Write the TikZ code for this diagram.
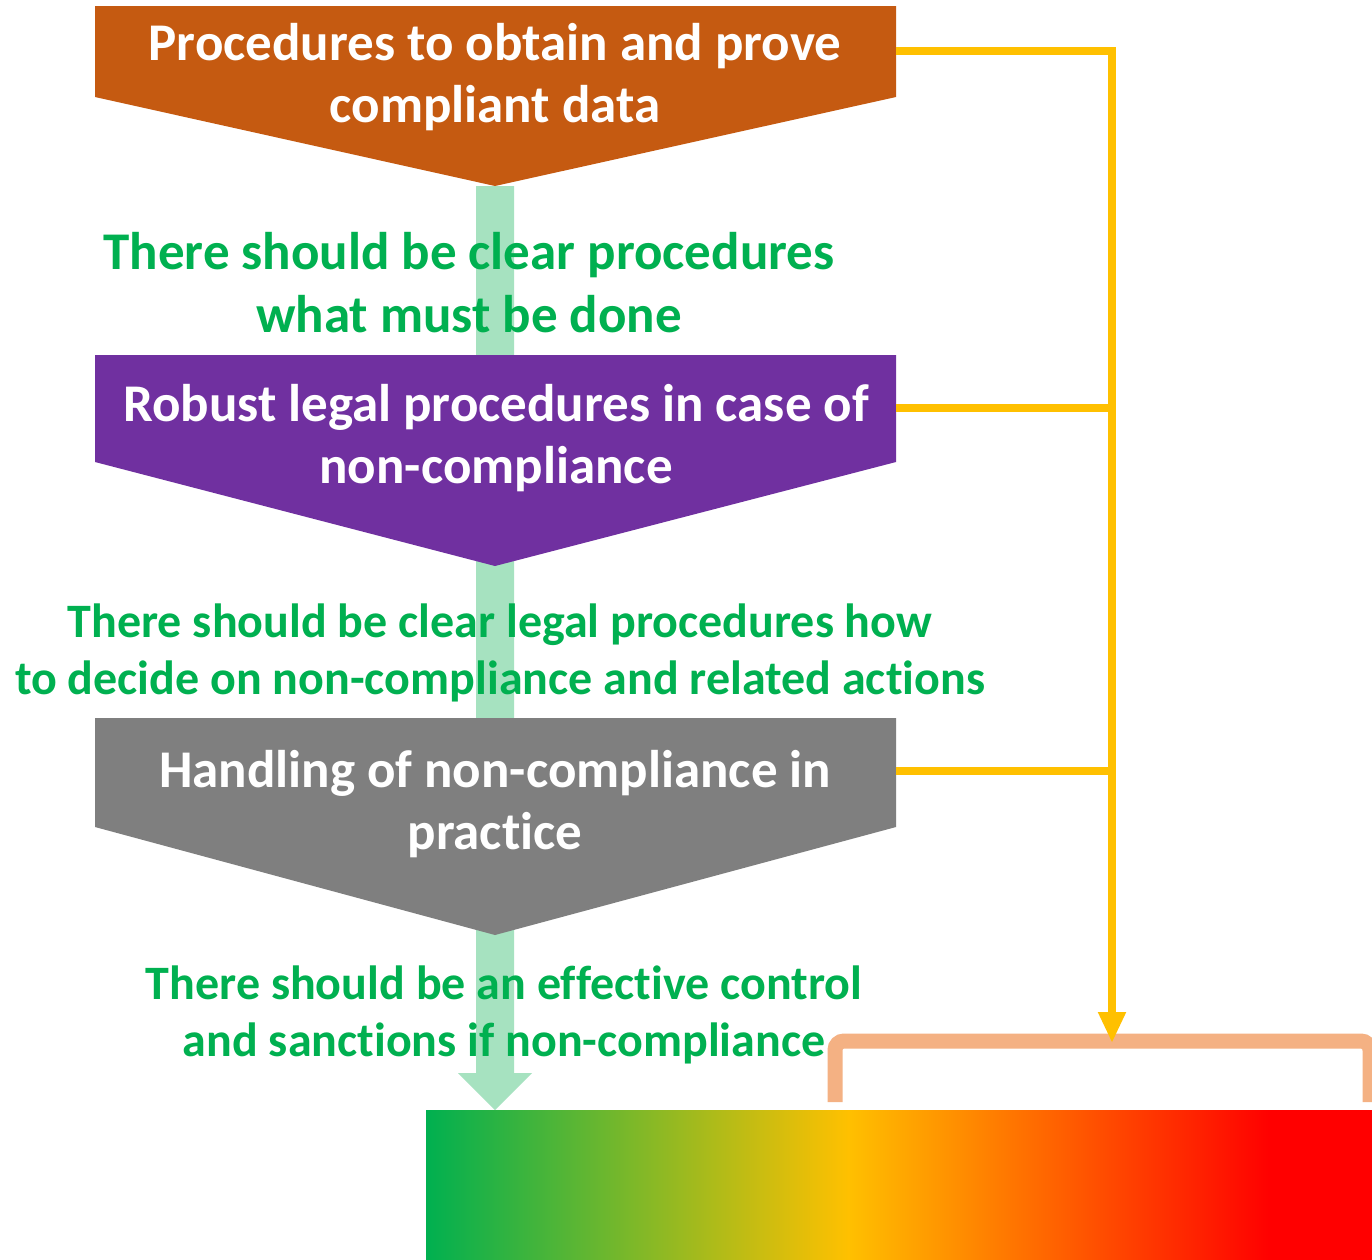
\documentclass[tikz,border=0pt]{standalone}
\usepackage{fontspec}
\setmainfont{Carlito}[Ligatures=NoCommon]
\usetikzlibrary{arrows.meta,calc}
\definecolor{cOrange}{HTML}{C55A11}
\definecolor{cPurple}{HTML}{7030A0}
\definecolor{cGray}{HTML}{7F7F7F}
\definecolor{cGreen}{HTML}{00B050}
\definecolor{cLight}{HTML}{A6E2C0}
\definecolor{cYellow}{HTML}{FFC000}
\definecolor{cBracket}{HTML}{F4B183}
\definecolor{cRed}{HTML}{FF0000}
\begin{document}
\begin{tikzpicture}[x=1pt,y=-1pt,
  boxtext/.style={text=white, font=\fontsize{53}{62}\selectfont\bfseries, align=center, inner sep=0pt},
  noteA/.style={text=cGreen, font=\fontsize{53}{63}\selectfont\bfseries, align=center, inner sep=0pt},
  noteB/.style={text=cGreen, font=\fontsize{48}{56.5}\selectfont\bfseries, align=center, inner sep=0pt},
  link/.style={draw=cYellow, line width=8pt},
  bracketline/.style={draw=cBracket, line width=15pt, rounded corners=9pt},
]
\useasboundingbox (0,0) rectangle (1372,1259);
\fill[white] (0,0) rectangle (1372,1259);

% gradient bar
\shade[left color=cGreen, right color=cYellow] (426,1110) rectangle (848.5,1262);
\shade[left color=cYellow, right color=cRed] (848,1110) rectangle (1270.5,1262);
\fill[cRed] (1270,1110) rectangle (1375,1262);
\coordinate (bar) at (495,1110);

% light green flow arrow
\fill[cLight] (476,186) -- (514,186) -- (514,1073) -- (532,1073) -- (bar) -- (458,1073) -- (476,1073) -- cycle;

% boxes
\fill[cOrange] (95,6) -- (896,6) -- (896,97) -- (495,186) -- (95,97) -- cycle;
\fill[cPurple] (95,355) -- (896,355) -- (896,462) -- (495,566) -- (95,462) -- cycle;
\fill[cGray] (95,718) -- (896,718) -- (896,827) -- (495,935) -- (95,827) -- cycle;
\coordinate (r1) at (896,51);
\coordinate (r2) at (896,408);
\coordinate (r3) at (896,771);

% bracket
\coordinate (bl) at (835,1102);
\coordinate (br) at (1370,1102);
\draw[bracketline] (bl) -- (835,1041) -- (1370,1041) -- (br);
\coordinate (tip) at (1112,1043);

% yellow connectors
\draw[link, -{Triangle[width=26pt,length=31pt]}] (r1) -| (tip);
\draw[link] (r2) -- (r2 -| tip);
\draw[link] (r3) -- (r3 -| tip);

% texts
\node[boxtext] (t1) at (495,77) {Procedures to obtain and prove\\compliant data};
\node[boxtext] (t2) at (496,438) {Robust legal procedures in case of\\non-compliance};
\node[boxtext] (t3) at (495,804) {Handling of non-compliance in\\practice};
\node[noteA] (g1) at (469,283) {There should be clear procedures\\what must be done};
\node[noteB] (g2) at (500,653) {There should be clear legal procedures how\\to decide on non-compliance and related actions};
\node[noteB] (g3) at (504,1015) {There should be an effective control\\and sanctions if non-compliance};
\end{tikzpicture}
\end{document}
